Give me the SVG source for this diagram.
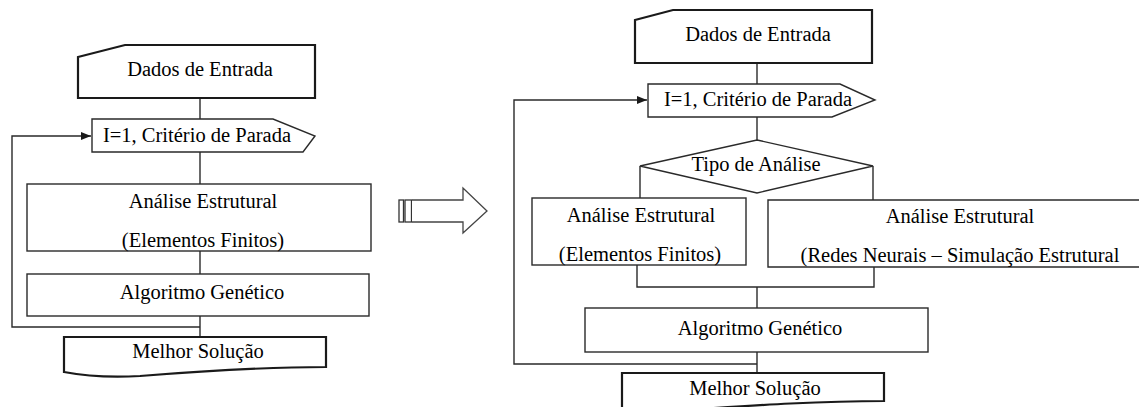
<svg xmlns="http://www.w3.org/2000/svg" width="1139" height="407" viewBox="0 0 1139 407">
<style>
.box{fill:#fff;stroke:#2a2a2a;stroke-width:1.4}
.thick{fill:#fff;stroke:#1a1a1a;stroke-width:2.2}
.ln{fill:none;stroke:#2a2a2a;stroke-width:1.4}
.t{font-family:"Liberation Serif","Times New Roman",serif;font-size:20.5px;fill:#000;text-anchor:middle}
</style>
<defs>
<marker id="ah" markerWidth="10" markerHeight="8" refX="10" refY="4" orient="auto" markerUnits="userSpaceOnUse">
<path d="M0,0 L10,4 L0,8 Z" fill="#1a1a1a"/>
</marker>
</defs>
<rect width="1139" height="407" fill="#fff"/>

<g id="connectors">
<!-- left diagram -->
<line class="ln" x1="200" y1="98" x2="200" y2="119"/>
<line class="ln" x1="200" y1="152" x2="200" y2="184"/>
<line class="ln" x1="200" y1="251" x2="200" y2="274"/>
<line class="ln" x1="200" y1="316" x2="200" y2="337"/>
<polyline class="ln" points="200,327 12,327 12,136 91,136" marker-end="url(#ah)"/>
<!-- right diagram -->
<line class="ln" x1="757" y1="63" x2="757" y2="84"/>
<line class="ln" x1="757" y1="117" x2="757" y2="140"/>
<line class="ln" x1="640" y1="166" x2="640" y2="198"/>
<line class="ln" x1="873" y1="166" x2="873" y2="200"/>
<polyline class="ln" points="637,265 637,287 874,287 874,267"/>
<line class="ln" x1="757" y1="287" x2="757" y2="308"/>
<line class="ln" x1="757" y1="352" x2="757" y2="373"/>
<polyline class="ln" points="757,364 514,364 514,100 647,100" marker-end="url(#ah)"/>
</g>

<g id="big-arrow">
<rect x="399" y="200" width="4.5" height="22" fill="#fff" stroke="#333" stroke-width="1.3"/>
<rect x="405" y="200" width="6.5" height="22" fill="#fff" stroke="#333" stroke-width="1.3"/>
<path d="M412,200 H463 V188 L487,211 L463,233 V222 H412" fill="#fff" stroke="#444" stroke-width="1.3"/>
</g>

<!-- left diagram nodes -->
<g id="l-dados">
<path class="thick" d="M78,57 L125,45 H315 V98 H78 Z"/>
<text class="t" x="200" y="76">Dados de Entrada</text>
</g>
<g id="l-criterio">
<path class="box" d="M92,119 H273 L315,136 L303,152 H92 Z" stroke-width="1.8"/>
<text class="t" x="197" y="142">I=1, Critério de Parada</text>
</g>
<g id="l-analise">
<rect class="box" x="27" y="184" width="344" height="67"/>
<text class="t" x="203" y="208">Análise Estrutural</text>
<text class="t" x="203" y="247">(Elementos Finitos)</text>
</g>
<g id="l-algoritmo">
<rect class="box" x="27" y="274" width="342" height="42"/>
<text class="t" x="202" y="299">Algoritmo Genético</text>
</g>
<g id="l-melhor">
<path class="thick" d="M64,337 H326 V367 C260,367 190,372 140,376 C105,378 85,376 64,372 Z"/>
<text class="t" x="198" y="358">Melhor Solução</text>
</g>

<!-- right diagram nodes -->
<g id="r-dados">
<path class="thick" d="M635,20 L673,10 H872 V63 H635 Z"/>
<text class="t" x="758" y="41">Dados de Entrada</text>
</g>
<g id="r-criterio">
<path class="box" d="M648,84 H840 L875,100 L832,117 H648 Z" stroke-width="1.8"/>
<text class="t" x="758" y="106">I=1, Critério de Parada</text>
</g>
<g id="r-tipo">
<path class="box" d="M757,140 L873,166 L757,193 L640,166 Z" stroke-width="1.8"/>
<text class="t" x="756" y="171">Tipo de Análise</text>
</g>
<g id="r-analise-fe">
<rect class="box" x="532" y="198" width="214" height="67"/>
<text class="t" x="641" y="222">Análise Estrutural</text>
<text class="t" x="640" y="261">(Elementos Finitos)</text>
</g>
<g id="r-analise-rn">
<path class="box" d="M1145,200 H768 V267 H1145"/>
<text class="t" x="960" y="223">Análise Estrutural</text>
<text class="t" x="960" y="262">(Redes Neurais – Simulação Estrutural</text>
</g>
<g id="r-algoritmo">
<rect class="box" x="585" y="308" width="343" height="44"/>
<text class="t" x="760" y="335">Algoritmo Genético</text>
</g>
<g id="r-melhor">
<path class="thick" d="M622,373 H884 V401 C820,401 760,405 700,409 L622,412 Z"/>
<text class="t" x="755" y="395">Melhor Solução</text>
</g>
</svg>
